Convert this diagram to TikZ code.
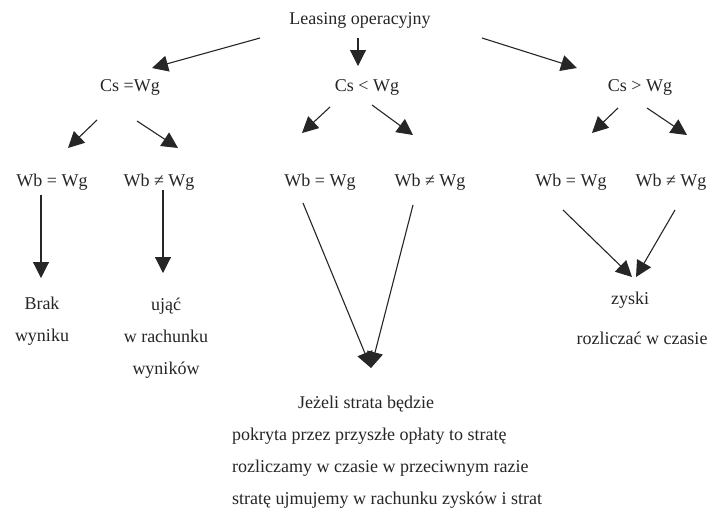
\documentclass[tikz,border=0pt]{standalone}
\usepackage{fontspec}
\setmainfont{Liberation Serif}
\usetikzlibrary{arrows.meta}
\begin{document}
\begin{tikzpicture}[x=1pt,y=-1pt,
  every node/.style={font=\fontsize{18}{32}\selectfont, inner sep=0pt, text=black!85},
  arr/.style={-{Triangle[length=16pt,width=16pt]}, line width=1.1pt, draw=black!85}]
\path[use as bounding box, fill=white] (0,0) rectangle (708,507);
% nodes
\node (L)  at (360,20) {Leasing operacyjny};
\node (C1) at (130,87) {Cs =Wg};
\node (C2) at (367,87) {Cs < Wg};
\node (C3) at (640,87) {Cs > Wg};
\node (W1) at (52,182)  {Wb = Wg};
\node (W2) at (159,182) {Wb ≠ Wg};
\node (W3) at (320,182) {Wb = Wg};
\node (W4) at (430,182) {Wb ≠ Wg};
\node (W5) at (571,182) {Wb = Wg};
\node (W6) at (671,182) {Wb ≠ Wg};
\node[align=center] (B) at (42,321) {Brak\\wyniku};
\node[align=center] (U) at (166,338) {ująć\\w rachunku\\wyników};
\node (Z1) at (630,300) {zyski};
\node (Z2) at (642,338) {rozliczać w czasie};
\node[align=left, anchor=west] (J) at (232,452) {\hspace*{66pt}Jeżeli strata będzie\\pokryta przez przyszłe opłaty to stratę\\rozliczamy w czasie w przeciwnym razie\\stratę ujmujemy w rachunku zysków i strat};
% connectors
\draw[arr] ([shift={(-100,18)}]L.center) -- ([shift={(22,-19)}]C1.center);
\draw[arr] ([shift={(-2,18)}]L.center) -- ([shift={(-9,-21)}]C2.center);
\draw[arr] ([shift={(122,18)}]L.center) -- ([shift={(-63,-19)}]C3.center);
\draw[arr] ([shift={(-33,33)}]C1.center) -- ([shift={(16,-34)}]W1.center);
\draw[arr] ([shift={(7,34)}]C1.center) -- ([shift={(19,-34)}]W2.center);
\draw[arr] ([shift={(-37,20)}]C2.center) -- ([shift={(-18,-49)}]W3.center);
\draw[arr] ([shift={(5,18)}]C2.center) -- ([shift={(-17,-47)}]W4.center);
\draw[arr] ([shift={(-22,21)}]C3.center) -- ([shift={(21,-49)}]W5.center);
\draw[arr] ([shift={(7,21)}]C3.center) -- ([shift={(16,-47)}]W6.center);
\draw[arr] ([shift={(-11,13)}]W1.center) -- ([shift={(-1,-43)}]B.center);
\draw[arr] ([shift={(4,8)}]W2.center) -- ([shift={(-3,-65)}]U.center);
\draw[arr] ([shift={(-17,21)}]W3.center) -- ([shift={(139,-84)}]J.west);
\draw[arr] ([shift={(-17,23)}]W4.center) -- ([shift={(139,-84)}]J.west);
\draw[arr] ([shift={(-8,28)}]W5.center) -- ([shift={(2,-23)}]Z1.center);
\draw[arr] ([shift={(4,28)}]W6.center) -- ([shift={(6,-23)}]Z1.center);
\end{tikzpicture}
\end{document}
